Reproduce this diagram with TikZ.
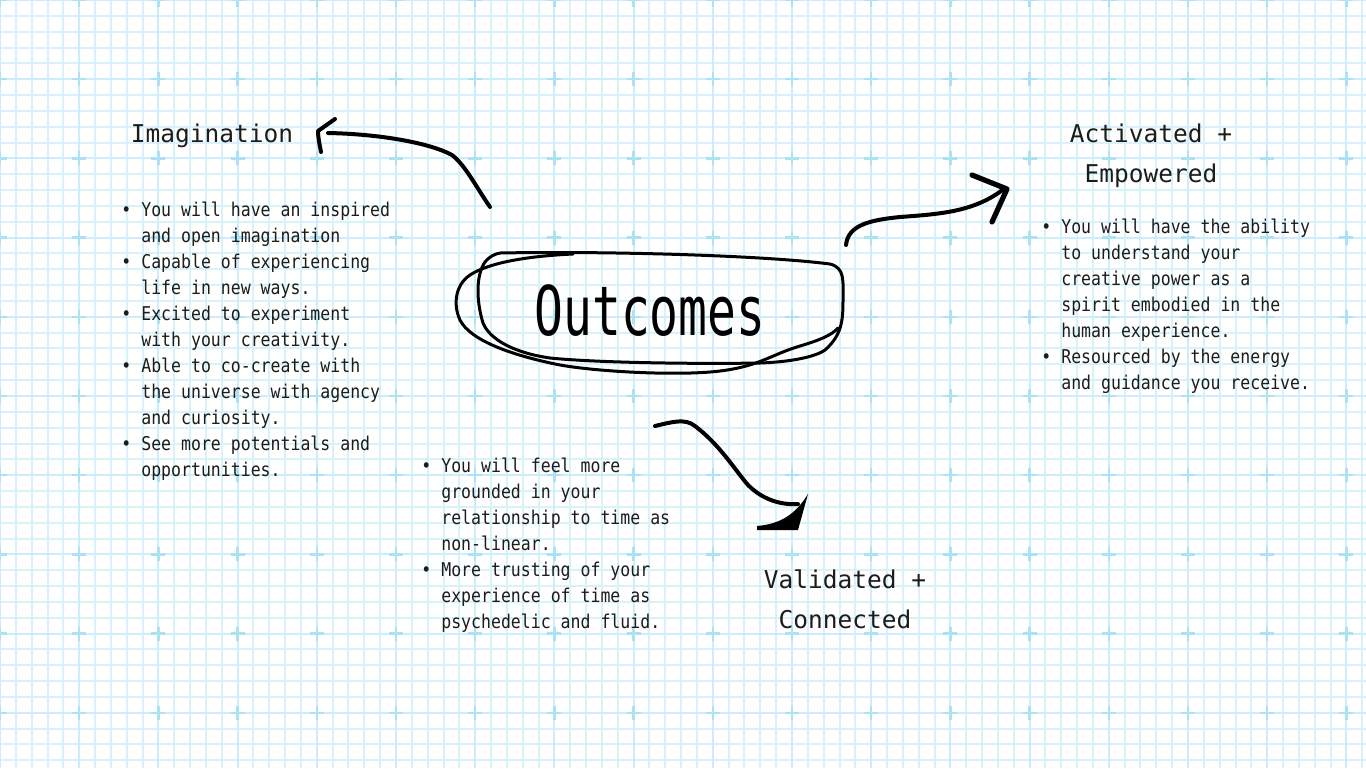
\documentclass[tikz,border=0pt]{standalone}
\usepackage{fontspec}
\usepackage{xcolor}
\usepackage{tikz}
\usetikzlibrary{positioning}

\newfontfamily\headfont{DejaVu Sans Mono}
\newfontfamily\listfont[FakeStretch=0.87]{DejaVu Sans Mono}
\newfontfamily\titlefont[FakeStretch=0.70]{DejaVu Sans Mono}

\definecolor{gridminor}{RGB}{216,242,251}
\definecolor{gridmajor}{RGB}{204,237,249}
\definecolor{gridcross}{RGB}{172,226,244}
\definecolor{inkgray}{RGB}{28,28,28}

\newcommand{\bl}{•\ }
\newcommand{\ind}{\hphantom{•\ }}

\begin{document}
\begin{tikzpicture}[
  x=0.5pt, y=-0.5pt,
  gridline/.style={draw=gridminor, line width=1pt},
  gridbold/.style={draw=gridmajor, line width=1pt},
  gridmark/.style={draw=gridcross, line width=1.2pt},
  heading/.style={font=\headfont\fontsize{12.25}{20}\selectfont, text=inkgray, align=center, anchor=base, inner sep=0pt},
  itemlist/.style={font=\listfont\fontsize{9.5}{13}\selectfont, text=inkgray, align=left, anchor=base west, inner sep=0pt},
  loopline/.style={draw=black, line width=1.5pt, line cap=round, line join=round},
  scrawl/.style={draw=black, line width=2pt, line cap=round, line join=round},
  scrawlhead/.style={draw=black, line width=2.6pt, line cap=round, line join=round}
]
  % paper
  \useasboundingbox (0,0) rectangle (1366,768);
  \fill[white] (0,0) rectangle (1366,768);
  \foreach \i in {0,...,86} {\draw[gridline] ({\i*15.84},0) -- ({\i*15.84},768);}
  \foreach \j in {0,...,48} {\draw[gridline] (0,{\j*15.84}) -- (1366,{\j*15.84});}
  \foreach \i in {0,...,17} {\draw[gridbold] ({\i*79.2},0) -- ({\i*79.2},768);}
  \foreach \j in {0,...,9} {\draw[gridbold] (0,{\j*79.2}) -- (1366,{\j*79.2});}
  \foreach \i in {0,...,17} {
    \foreach \j in {0,...,9} {
      \draw[gridmark] ({\i*79.2-7},{\j*79.2}) -- ({\i*79.2+7},{\j*79.2})
                      ({\i*79.2},{\j*79.2-7}) -- ({\i*79.2},{\j*79.2+7});
    }
  }

  % centre
  \node[font=\titlefont\fontsize{34.25}{40}\selectfont, text=black, anchor=base, inner sep=0pt] (out) at (650,335) {Outcomes};
  \draw[loopline] (500,253) .. controls (600,251) and (760,255) .. (830,264)
    .. controls (845,268) and (843,280) .. (843,300)
    .. controls (843,320) and (842,335) .. (825,350)
    .. controls (815,357) and (790,362) .. (760,363)
    .. controls (700,364) and (600,363) .. (550,358)
    .. controls (515,353) and (490,340) .. (483,323)
    .. controls (476,300) and (476,275) .. (485,262)
    .. controls (490,256) and (495,254) .. (500,253);
  \draw[loopline] (573,254) .. controls (530,256) and (490,262) .. (470,275)
    .. controls (455,285) and (453,305) .. (460,320)
    .. controls (470,340) and (510,355) .. (560,365)
    .. controls (600,372) and (680,376) .. (720,371)
    .. controls (760,366) and (770,355) .. (800,346)
    .. controls (820,340) and (832,335) .. (838,328);

  % headings (anchored at the last line)
  \node[heading] (imag) at (212,142) {Imagination};
  \node[heading] (activ) at (1151,182) {Activated +\\Empowered};
  \node[heading] (valid) at (845,628) {Validated +\\Connected};

  % lists (anchored at the last line)
  \node[itemlist] (imaglist) at (121,476) {%
    \bl You will have an inspired\\
    \ind and open imagination\\
    \bl Capable of experiencing\\
    \ind life in new ways.\\
    \bl Excited to experiment\\
    \ind with your creativity.\\
    \bl Able to co-create with\\
    \ind the universe with agency\\
    \ind and curiosity.\\
    \bl See more potentials and\\
    \ind opportunities.};
  \node[itemlist] (activlist) at (1041,389) {%
    \bl You will have the ability\\
    \ind to understand your\\
    \ind creative power as a\\
    \ind spirit embodied in the\\
    \ind human experience.\\
    \bl Resourced by the energy\\
    \ind and guidance you receive.};
  \node[itemlist] (validlist) at (421,628) {%
    \bl You will feel more\\
    \ind grounded in your\\
    \ind relationship to time as\\
    \ind non-linear.\\
    \bl More trusting of your\\
    \ind experience of time as\\
    \ind psychedelic and fluid.};

  % arrows
  \coordinate (imagtail) at (490,207);
  \coordinate (imagtip) at (328,133);
  \draw[scrawl] (imagtail) .. controls (475,185) and (465,165) .. (452,155)
    .. controls (430,143) and (380,134) .. (imagtip);
  \draw[scrawl] (321,152) .. controls (319,142) and (318,136) .. (318,131) -- (335,119);

  \coordinate (activtail) at (846,245);
  \coordinate (activtip) at (1005,188);
  \draw[scrawl] (activtail) .. controls (848,225) and (870,220) .. (900,217)
    .. controls (940,214) and (975,212) .. (activtip);
  \draw[scrawlhead] (972,175) -- (1007,189) -- (992,222);

  \coordinate (validtail) at (655,426);
  \coordinate (validtip) at (798,504);
  \draw[scrawl] (validtail) .. controls (672,422) and (685,418) .. (695,426)
    .. controls (720,445) and (735,470) .. (748,485)
    .. controls (765,502) and (785,505) .. (validtip);
  \fill[black] (808,494) -- (798,530) -- (757,530) -- (757,526)
    .. controls (780,524) and (795,515) .. (808,494) -- cycle;
\end{tikzpicture}
\end{document}
